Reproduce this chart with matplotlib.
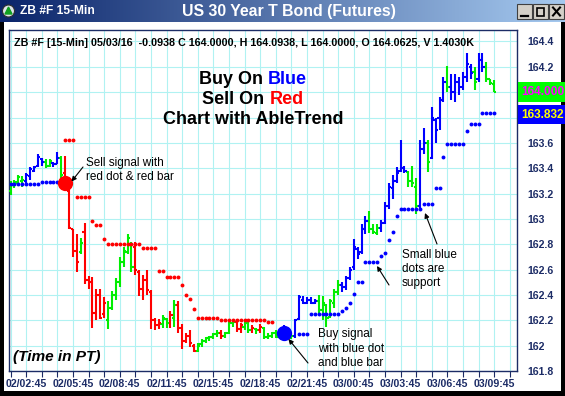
import numpy as np
import matplotlib
matplotlib.use("Agg")
import matplotlib.pyplot as plt
from matplotlib.patches import Rectangle, Circle, Polygon
from matplotlib.colors import LinearSegmentedColormap

plt.rcParams['font.family'] = ['Liberation Sans', 'DejaVu Sans']

# ---------------- data (15-min bars) ----------------
bar_colors = ("GGGGBBBBBGGBBGRRRRGRRRRRRGGGGGGGRRRRRRRGGRGRRRRRGGGGGGRGGGRRGGRGRGGGGGBGGBBBBBBGGGGGGBBBBBBBGGGBBBBBBBGGGBBGBBBBGBBBBBBGBBGGG")
opens = [163.22, 163.27, 163.28, 163.30, 163.30, 163.34, 163.38, 163.42, 163.47, 163.45,
         163.42, 163.44, 163.43, 163.48, 163.36, 163.22, 162.92, 162.75, 162.74, 162.90,
         162.52, 162.50, 162.26, 162.40, 162.25, 162.20, 162.30, 162.40, 162.50, 162.66,
         162.74, 162.80, 162.78, 162.58, 162.45, 162.52, 162.42, 162.20, 162.16, 162.17,
         162.21, 162.18, 162.22, 162.32, 162.14, 162.04, 162.08, 162.00, 161.96, 162.01,
         162.04, 162.06, 162.07, 162.09, 162.10, 162.08, 162.10, 162.18, 162.19, 162.13,
         162.15, 162.18, 162.12, 162.13, 162.12, 162.14, 162.07, 162.08, 162.10, 162.07,
         162.08, 162.11, 162.07, 162.08, 162.21, 162.36, 162.34, 162.36, 162.34, 162.35,
         162.28, 162.32, 162.23, 162.34, 162.42, 162.48, 162.46, 162.53, 162.62, 162.76,
         162.74, 162.92, 162.98, 162.92, 162.89, 162.93, 162.97, 163.10, 163.24, 163.30,
         163.38, 163.40, 163.37, 163.30, 163.25, 163.10, 163.55, 163.60, 163.48, 163.78,
         163.80, 163.94, 164.08, 164.04, 164.00, 164.08, 164.04, 164.12, 164.20, 164.16,
         164.10, 164.25, 164.20, 164.10, 164.0625]
highs = [163.30, 163.31, 163.35, 163.34, 163.36, 163.41, 163.42, 163.51, 163.48, 163.47,
         163.47, 163.45, 163.53, 163.50, 163.50, 163.24, 162.92, 162.88, 162.85, 162.97,
         162.55, 162.54, 162.45, 162.45, 162.38, 162.35, 162.43, 162.53, 162.70, 162.78,
         162.88, 162.82, 162.82, 162.60, 162.56, 162.60, 162.44, 162.22, 162.21, 162.24,
         162.22, 162.27, 162.36, 162.35, 162.17, 162.10, 162.12, 162.01, 162.02, 162.05,
         162.07, 162.08, 162.10, 162.12, 162.12, 162.11, 162.20, 162.20, 162.21, 162.18,
         162.20, 162.20, 162.16, 162.14, 162.17, 162.15, 162.10, 162.11, 162.12, 162.11,
         162.16, 162.12, 162.10, 162.21, 162.40, 162.39, 162.38, 162.38, 162.37, 162.40,
         162.39, 162.33, 162.37, 162.45, 162.52, 162.50, 162.55, 162.62, 162.84, 162.78,
         162.96, 163.02, 163.06, 162.96, 162.96, 162.99, 163.13, 163.28, 163.35, 163.41,
         163.62, 163.42, 163.38, 163.42, 163.32, 163.62, 163.72, 163.62, 163.88, 163.80,
         163.96, 164.12, 164.21, 164.14, 164.14, 164.12, 164.16, 164.31, 164.22, 164.20,
         164.31, 164.31, 164.24, 164.10, 164.0938]
lows = [163.19, 163.24, 163.26, 163.25, 163.27, 163.31, 163.37, 163.41, 163.42, 163.40,
        163.41, 163.41, 163.43, 163.31, 163.23, 162.92, 162.70, 162.58, 162.72, 162.49,
        162.45, 162.14, 162.20, 162.21, 162.22, 162.13, 162.28, 162.36, 162.46, 162.62,
        162.72, 162.58, 162.56, 162.39, 162.36, 162.40, 162.13, 162.12, 162.13, 162.14,
        162.14, 162.14, 162.15, 162.10, 161.97, 162.02, 161.99, 161.95, 161.95, 161.99,
        162.02, 162.04, 162.05, 162.07, 162.05, 162.06, 162.09, 162.15, 162.11, 162.10,
        162.12, 162.10, 162.10, 162.09, 162.10, 162.05, 162.05, 162.06, 162.06, 162.05,
        162.05, 162.05, 162.05, 162.06, 162.20, 162.33, 162.33, 162.33, 162.33, 162.24,
        162.20, 162.15, 162.22, 162.30, 162.40, 162.42, 162.44, 162.52, 162.60, 162.68,
        162.72, 162.88, 162.89, 162.88, 162.87, 162.90, 162.96, 163.08, 163.16, 163.28,
        163.37, 163.36, 163.25, 163.25, 163.04, 163.06, 163.51, 163.37, 163.47, 163.60,
        163.70, 163.92, 164.00, 163.94, 163.92, 163.98, 164.02, 164.08, 164.10, 164.02,
        164.08, 164.16, 164.08, 164.06, 164.00]
closes = [163.27, 163.29, 163.33, 163.31, 163.35, 163.39, 163.41, 163.49, 163.45, 163.42,
          163.46, 163.43, 163.48, 163.35, 163.25, 162.93, 162.75, 162.66, 162.81, 162.52,
          162.50, 162.26, 162.40, 162.22, 162.34, 162.30, 162.40, 162.50, 162.66, 162.75,
          162.85, 162.62, 162.60, 162.45, 162.52, 162.44, 162.20, 162.16, 162.18, 162.22,
          162.18, 162.24, 162.32, 162.14, 162.04, 162.08, 162.02, 161.96, 162.00, 162.04,
          162.06, 162.07, 162.09, 162.10, 162.08, 162.10, 162.18, 162.19, 162.13, 162.16,
          162.18, 162.12, 162.14, 162.12, 162.15, 162.07, 162.08, 162.10, 162.08, 162.09,
          162.12, 162.07, 162.08, 162.20, 162.38, 162.34, 162.36, 162.34, 162.35, 162.28,
          162.34, 162.22, 162.35, 162.42, 162.48, 162.46, 162.53, 162.60, 162.78, 162.72,
          162.92, 162.98, 162.92, 162.90, 162.93, 162.97, 163.10, 163.25, 163.30, 163.36,
          163.40, 163.38, 163.30, 163.28, 163.10, 163.55, 163.60, 163.45, 163.80, 163.70,
          163.94, 164.08, 164.04, 164.00, 164.08, 164.04, 164.12, 164.22, 164.15, 164.08,
          164.25, 164.20, 164.10, 164.07, 164.00]

N = None
red_dots = ([N] * 14 + [163.62] * 3 + [163.17] * 4 + [162.98] + [162.955] * 2 + [162.845]
            + [162.805] * 9 + [162.77] * 4 + [162.59] * 2 + [162.545] * 4 + [162.48]
            + [162.40] + [162.37] + [162.29] + [162.215] * 6 + [162.20] * 12 + [162.19] * 2
            + [N] * 57)
blue_dots = ([163.275] * 8 + [163.295] * 6 + [N] * 60 + [162.09] * 3 + [162.25] * 8
             + [162.27] + [162.30] + [162.34] + [162.41] + [162.50] * 2 + [162.66] * 4
             + [162.705] + [162.73] + [162.83] + [162.895] + [163.02] + [163.08] * 6
             + [163.12] * 3 + [163.24] * 2 + [163.49] + [163.59] * 5 + [163.69]
             + [163.745] * 3 + [163.832] * 4)
sell_idx, sell_price = 14, 163.28
buy_idx, buy_price = 70, 162.10

time_labels = ['02/02:45', '02/05:45', '02/08:45', '02/11:45', '02/15:45', '02/18:45',
               '02/21:45', '03/00:45', '03/03:45', '03/06:45', '03/09:45']
y_ticks = [161.8, 162.0, 162.2, 162.4, 162.6, 162.8, 163.0, 163.2, 163.4, 163.6,
           163.8, 164.0, 164.2, 164.4]
# 163.8 and 164 sit under the price boxes in the reference, so they show no label
y_tick_labels = ['161.8', '162', '162.2', '162.4', '162.6', '162.8', '163', '163.2',
                 '163.4', '163.6', '', '', '164.2', '164.4']
last_price, support_price = 164.000, 163.832
header = ("ZB #F [15-Min] 05/03/16  -0.0938 C 164.0000, H 164.0938, "
          "L 164.0000, O 164.0625, V 1.4030K")

# ---------------- figure ----------------
W, H = 565, 396
fig = plt.figure(figsize=(W / 100, H / 100), dpi=100)
fig.patch.set_facecolor('white')
navy = '#1c2c66'

PL, PR, PT, PB = 9, 517, 30, 371
ax = fig.add_axes([PL / W, 1 - PB / H, (PR - PL) / W, (PB - PT) / H])
x0pix, dx = 10.5, 3.9
ax.set_xlim((PL - x0pix) / dx, (PR - x0pix) / dx)
ax.set_ylim(161.8 + (371.7 - PB) / 127, 161.8 + (371.7 - PT) / 127)

n = len(closes)
idx = np.arange(n)
cmap = {'B': '#0000ff', 'G': '#00ee00', 'R': '#ff0000'}
cols = [cmap[c] for c in bar_colors[:n]]
ax.vlines(idx, lows, highs, colors=cols, lw=1.5, zorder=3)
ax.hlines(opens, idx - 0.55, idx, colors=cols, lw=1.5, zorder=3)
ax.hlines(closes, idx, idx + 0.55, colors=cols, lw=1.5, zorder=3)

rd = np.array([np.nan if v is None else v for v in red_dots], float)
bd = np.array([np.nan if v is None else v for v in blue_dots], float)
ax.plot(np.arange(len(rd)), rd, 'o', color='#ff0000', ms=2.8, mew=0, zorder=4)
ax.plot(np.arange(len(bd)), bd, 'o', color='#0000ff', ms=2.8, mew=0, zorder=4)
ax.plot([sell_idx], [sell_price], 'o', color='#ff0000', ms=11, mew=0, zorder=5)
ax.plot([buy_idx], [buy_price], 'o', color='#0000ff', ms=11, mew=0, zorder=5)

xt = np.arange(0, 130, 4)
ax.set_xticks(xt)
ax.set_xticklabels([time_labels[(t - 4) // 12] if (t - 4) % 12 == 0 and t >= 4 else ''
                    for t in xt])
ax.set_yticks(y_ticks)
ax.set_yticklabels(y_tick_labels)
ax.yaxis.tick_right()
ax.grid(True, color='#b0f2f2', lw=0.8)
ax.set_axisbelow(True)
ax.tick_params(axis='x', length=4, width=0.8, color=navy, pad=2,
               labelsize=7.6, labelcolor=navy)
ax.tick_params(axis='y', length=0, pad=7.2, labelsize=7.6, labelcolor=navy)
for lab in ax.get_xticklabels() + ax.get_yticklabels():
    lab.set_fontweight('bold')
for s in ax.spines.values():
    s.set_color(navy)
    s.set_linewidth(1.0)

# ---------------- overlay (pixel coordinates) ----------------
ov = fig.add_axes([0, 0, 1, 1], zorder=10)
ov.patch.set_visible(False)
ov.axis('off')
grad = np.linspace(0, 1, 256).reshape(1, -1)
ov.imshow(grad, extent=[0, W, 22, 0], aspect='auto',
          cmap=LinearSegmentedColormap.from_list('tb', ['#0a246a', '#a6caf0']))
ov.set_xlim(0, W)
ov.set_ylim(H, 0)

for (x, y, w, h) in [(0, 22, 4, H - 22), (561, 22, 4, H - 22), (0, 391, W, 5)]:
    ov.add_patch(Rectangle((x, y), w, h, color='black', lw=0))

# icon
ov.add_patch(Circle((8.5, 11), 6, facecolor='#dfe4ea', edgecolor='#303030', lw=0.8))
ov.add_patch(Polygon([[5, 14], [12, 14], [8.5, 7]], closed=True, color='#10a020'))

# window buttons
for bx in (517, 533, 549):
    ov.add_patch(Rectangle((bx, 4), 14.5, 15, facecolor='#d4d0c8', edgecolor='#404040', lw=0.8))
ov.plot([520.5, 527.5], [15.5, 15.5], color='black', lw=1.6)
ov.add_patch(Rectangle((536.5, 7.5), 7.5, 8, fill=False, edgecolor='black', lw=1.2))
ov.plot([553, 560], [7.5, 15.5], color='black', lw=1.5)
ov.plot([553, 560], [15.5, 7.5], color='black', lw=1.5)

r = fig.canvas.get_renderer()


def fit(t, target):
    w = t.get_window_extent(renderer=r).width
    t.set_fontsize(t.get_fontsize() * target / w)
    return t


fit(ov.text(20, 11.5, 'ZB #F 15-Min', color='white', fontweight='bold', fontsize=9,
            va='center', ha='left'), 75)
fit(ov.text(182, 11.5, 'US 30 Year T Bond (Futures)', color='white', fontweight='bold',
            fontsize=11, va='center', ha='left'), 215)
fit(ov.text(14, 42.5, header, color='black', fontweight='bold', fontsize=7.5,
            va='center', ha='left'), 462)

# price boxes
ov.add_patch(Rectangle((518, 82), 47, 19.5, color='#00ff00', lw=0))
ov.text(521, 92, '%.3f' % last_price, color='#ff00ff', fontweight='bold', fontsize=8.6,
        va='center', ha='left')
ov.add_patch(Rectangle((518, 104.5), 47, 19.5, color='#0000ff', lw=0))
ov.text(521, 114.5, '%.3f' % support_price, color='#ffff00', fontweight='bold', fontsize=8.6,
        va='center', ha='left')


def two_color(left, right, rcol, cx, cy, size):
    full = ov.text(0, cy, left + ' ' + right, fontsize=size, fontweight='bold')
    w = full.get_window_extent(renderer=r).width
    full.remove()
    ov.text(cx - w / 2, cy, left, fontsize=size, fontweight='bold', color='black',
            ha='left', va='center')
    ov.text(cx + w / 2, cy, right, fontsize=size, fontweight='bold', color=rcol,
            ha='right', va='center')


two_color('Buy On', 'Blue', '#0000ff', 253, 80, 13)
two_color('Sell On', 'Red', '#ff0000', 253, 100, 13)
ov.text(253, 119, 'Chart with AbleTrend', fontsize=13, fontweight='bold', color='black',
        ha='center', va='center')

note = dict(fontsize=8.5, color='black', ha='left', va='center')
ov.text(86, 163, 'Sell signal with', **note)
ov.text(86, 177, 'red dot & red bar', **note)
ov.text(402, 255, 'Small blue', **note)
ov.text(402, 269, 'dots are', **note)
ov.text(402, 283, 'support', **note)
ov.text(318, 334, 'Buy signal', **note)
ov.text(318, 348.5, 'with blue dot', **note)
ov.text(318, 363, 'and blue bar', **note)
fit(ov.text(13, 356.5, '(Time in PT)', fontsize=11, fontweight='bold', style='italic',
            color='black', ha='left', va='center'), 88)

arw = dict(arrowstyle='-|>', color='black', lw=0.8, mutation_scale=7, shrinkA=0, shrinkB=0)
for (xs, ys, xe, ye) in [(83, 167, 71.5, 181.5), (437, 244, 425, 213),
                         (389, 285, 377, 266), (308, 363, 288.5, 339)]:
    ov.annotate('', xy=(xe, ye), xytext=(xs, ys), arrowprops=arw)

fig.savefig('out.png', dpi=100, facecolor='white')
